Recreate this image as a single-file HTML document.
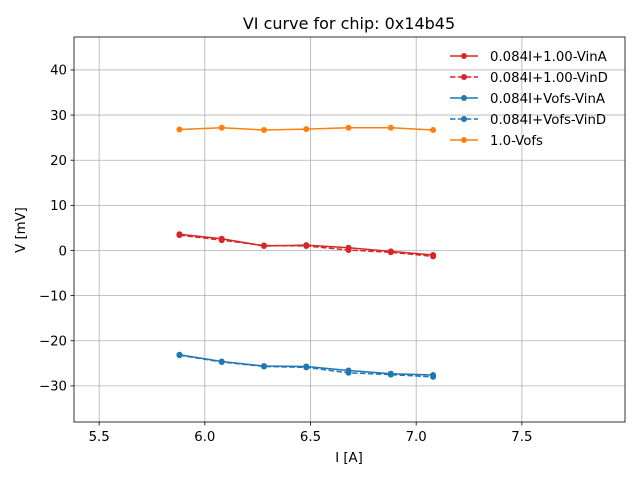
<!DOCTYPE html>
<html><head><meta charset="utf-8"><style>
body{margin:0;background:#fff;}
svg text{font-family:"DejaVu Sans","Liberation Sans",sans-serif;}
</style></head><body>
<svg id="chart" width="640" height="480" xmlns="http://www.w3.org/2000/svg"></svg>
<script>
const xVals = [5.88, 6.08, 6.28, 6.48, 6.68, 6.88, 7.08];
const redA = [3.6, 2.6, 1.0, 1.2, 0.6, -0.2, -1.0];
const redD = [3.4, 2.3, 1.1, 1.0, 0.1, -0.4, -1.3];
const blueA = [-23.1, -24.6, -25.6, -25.7, -26.6, -27.3, -27.6];
const blueD = [-23.2, -24.7, -25.7, -25.9, -27.1, -27.5, -28.0];
const orange = [26.8, 27.2, 26.7, 26.9, 27.2, 27.2, 26.7];
const xTicks = [5.5, 6.0, 6.5, 7.0, 7.5];
const yTicks = [-30, -20, -10, 0, 10, 20, 30, 40];
const seriesNames = ["0.084I+1.00-VinA","0.084I+1.00-VinD","0.084I+Vofs-VinA","0.084I+Vofs-VinD","1.0-Vofs"];

const L=74,R=625,T=37,B=422;
const X0=5.381,X1=7.988,Y0=-38.0,Y1=47.3;
const sx=v=>L+(v-X0)/(X1-X0)*(R-L);
const sy=v=>B-(v-Y0)/(Y1-Y0)*(B-T);
const svg=document.getElementById('chart');
const NS="http://www.w3.org/2000/svg";
function mk(tag,attrs,parent){const e=document.createElementNS(NS,tag);for(const k in attrs)e.setAttribute(k,attrs[k]);(parent||svg).appendChild(e);return e;}

mk('rect',{x:0,y:0,width:640,height:480,fill:'#fff'});
xTicks.forEach(t=>{
  const g=mk('line',{x1:sx(t),x2:sx(t),y1:T,y2:B,stroke:'#b0b0b0','stroke-width':0.8});
  
  
  mk('line',{x1:sx(t),x2:sx(t),y1:B,y2:B+3.5,stroke:'#000','stroke-width':0.8});
  const tx=mk('text',{x:sx(t),y:B+19,'font-size':13.3,'text-anchor':'middle',fill:'#000'});
  tx.textContent=t.toFixed(1);
  
  
});
yTicks.forEach(t=>{
  const g=mk('line',{x1:L,x2:R,y1:sy(t),y2:sy(t),stroke:'#b0b0b0','stroke-width':0.8});
  
  
  mk('line',{x1:L-3.5,x2:L,y1:sy(t),y2:sy(t),stroke:'#000','stroke-width':0.8});
  const tx=mk('text',{x:L-7,y:sy(t)+4.8,'font-size':13.3,'text-anchor':'end',fill:'#000'});
  tx.textContent=(t<0?'\u2212'+(-t):t);
  
  
});
const series=[
  {d:redA,c:'#d62728',dash:null,n:'series-0084i-100-vina'},
  {d:redD,c:'#d62728',dash:'5.5,2.4',n:'series-0084i-100-vind'},
  {d:blueA,c:'#1f77b4',dash:null,n:'series-0084i-vofs-vina'},
  {d:blueD,c:'#1f77b4',dash:'5.5,2.4',n:'series-0084i-vofs-vind'},
  {d:orange,c:'#ff7f0e',dash:null,n:'series-10-vofs'}
];
series.forEach(s=>{
  const g=mk('g',{});
  
  
  const pts=xVals.map((x,i)=>sx(x)+','+sy(s.d[i])).join(' ');
  const a={points:pts,fill:'none',stroke:s.c,'stroke-width':1.5};
  if(s.dash)a['stroke-dasharray']=s.dash;
  mk('polyline',a,g);
  xVals.forEach((x,i)=>{
    const c=mk('circle',{cx:sx(x),cy:sy(s.d[i]),r:3,fill:s.c},g);
    
    
  });
});
mk('rect',{x:L,y:T,width:R-L,height:B-T,fill:'none',stroke:'#000','stroke-width':0.8});
const lg=mk('g',{});


series.forEach((s,i)=>{
  const y=56+i*21;
  const e=mk('g',{},lg);
  
  
  const a={x1:450,x2:478,y1:y,y2:y,stroke:s.c,'stroke-width':1.5};
  if(s.dash)a['stroke-dasharray']=s.dash;
  mk('line',a,e);
  mk('circle',{cx:464,cy:y,r:3,fill:s.c},e);
  const t=mk('text',{x:490,y:y+4.8,'font-size':13.3,fill:'#000'},e);
  t.textContent=seriesNames[i];
});
let t=mk('text',{x:349,y:29,'font-size':16,'text-anchor':'middle',fill:'#000'});
t.textContent='VI curve for chip: 0x14b45';


t=mk('text',{x:349,y:462,'font-size':13.3,'text-anchor':'middle',fill:'#000'});
t.textContent='I [A]';


t=mk('text',{x:25,y:230,'font-size':13.3,'text-anchor':'middle',fill:'#000',transform:'rotate(-90 25 230)'});
t.textContent='V [mV]';


</script>
</body></html>
